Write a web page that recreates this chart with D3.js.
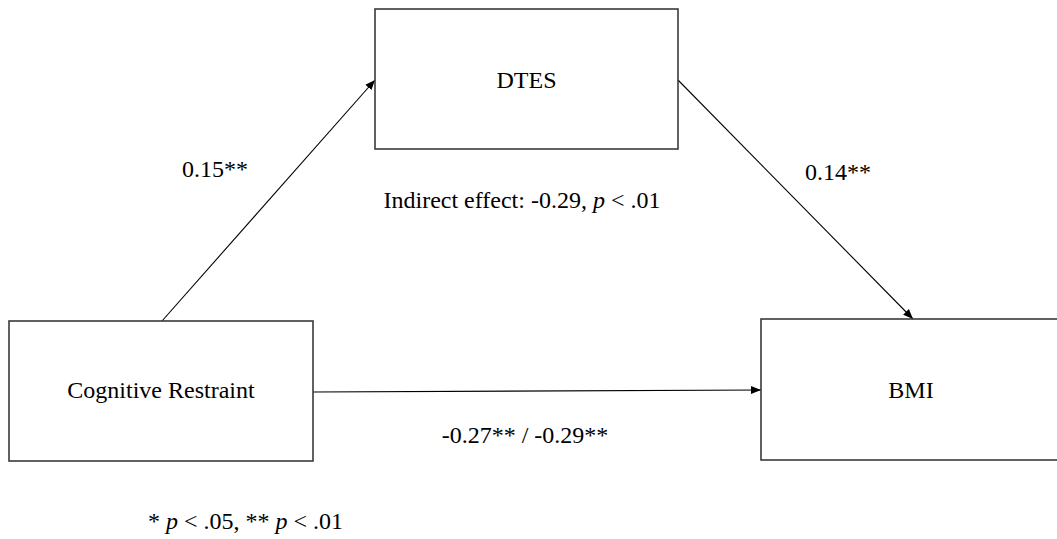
<!DOCTYPE html>
<html>
<head>
<meta charset="utf-8">
<script src="https://cdn.jsdelivr.net/npm/d3@7"></script>
<style>
  html, body { margin: 0; padding: 0; background: #fff; }
</style>
</head>
<body>
<svg id="chart" width="1057" height="539"></svg>
<script>
// model variables
var nodeNames = ["Cognitive Restraint", "DTES", "BMI"];
// paths: from -> to, coefficient text
var pathFrom = [0, 1, 0];
var pathTo = [1, 2, 2];
var pathLabels = ["0.15**", "0.14**", "-0.27** / -0.29**"];
var indirectLabel = ["Indirect effect: -0.29, ", "p", " < .01"];
var noteLabel = ["* ", "p", " < .05, ** ", "p", " < .01"];

var serif = "'Liberation Serif', 'Times New Roman', Times, 'DejaVu Serif', serif";
var fsize = "24px";
var svg = d3.select("#chart");

// layout of the boxes (x, y, w, h)
var boxes = [
	{x: 9, y: 321, w: 304, h: 140},
	{x: 375, y: 9, w: 303, h: 140},
	{x: 761, y: 319, w: 300, h: 141}
];
// where each path leaves and enters
var ends = [
	[[162, 321], [375, 80]],
	[[678, 80], [913, 319]],
	[[313, 392], [761, 390]]
];
var labelPos = [[215, 177], [838, 180], [525, 443]];

svg.append("defs").append("marker")
	.attr("id", "arrow")
	.attr("viewBox", "0 0 10 10")
	.attr("refX", 10)
	.attr("refY", 5)
	.attr("markerWidth", 10)
	.attr("markerHeight", 10)
	.attr("markerUnits", "userSpaceOnUse")
	.attr("orient", "auto")
	.append("path")
	.attr("d", "M0,1 L10,5 L0,9 Z")
	.attr("fill", "#000");

svg.append("g")
	.selectAll("line")
	.data(pathFrom)
	.enter()
	.append("line")
	.attr("x1", function(d, i) { return ends[i][0][0]; })
	.attr("y1", function(d, i) { return ends[i][0][1]; })
	.attr("x2", function(d, i) { return ends[i][1][0]; })
	.attr("y2", function(d, i) { return ends[i][1][1]; })
	.attr("stroke", "#000")
	.attr("stroke-width", 1.1)
	.attr("marker-end", "url(#arrow)");

var nodes = svg.append("g")
	.selectAll("g")
	.data(nodeNames)
	.enter()
	.append("g");

nodes.append("rect")
	.attr("x", function(d, i) { return boxes[i].x; })
	.attr("y", function(d, i) { return boxes[i].y; })
	.attr("width", function(d, i) { return boxes[i].w; })
	.attr("height", function(d, i) { return boxes[i].h; })
	.attr("fill", "none")
	.attr("stroke", "#3a3a3a")
	.attr("stroke-width", 1.6);

nodes.append("text")
	.attr("x", function(d, i) { return i == 2 ? 911 : boxes[i].x + boxes[i].w / 2; })
	.attr("y", function(d, i) { return i == 1 ? 88 : 398; })
	.attr("text-anchor", "middle")
	.style("font-family", serif)
	.style("font-size", fsize)
	.text(function(d) { return d; });

svg.append("g")
	.selectAll("text")
	.data(pathLabels)
	.enter()
	.append("text")
	.attr("x", function(d, i) { return labelPos[i][0]; })
	.attr("y", function(d, i) { return labelPos[i][1]; })
	.attr("text-anchor", "middle")
	.style("font-family", serif)
	.style("font-size", fsize)
	.text(function(d) { return d; });

function richText(parts, x, y, anchor) {
	var t = svg.append("text")
		.attr("x", x)
		.attr("y", y)
		.attr("text-anchor", anchor)
		.style("font-family", serif)
		.style("font-size", fsize);
	t.selectAll("tspan")
		.data(parts)
		.enter()
		.append("tspan")
		.style("font-style", function(d) { return d == "p" ? "italic" : "normal"; })
		.text(function(d) { return d; });
}

richText(indirectLabel, 522, 208, "middle");
richText(noteLabel, 148, 529, "start");
</script>
</body>
</html>
